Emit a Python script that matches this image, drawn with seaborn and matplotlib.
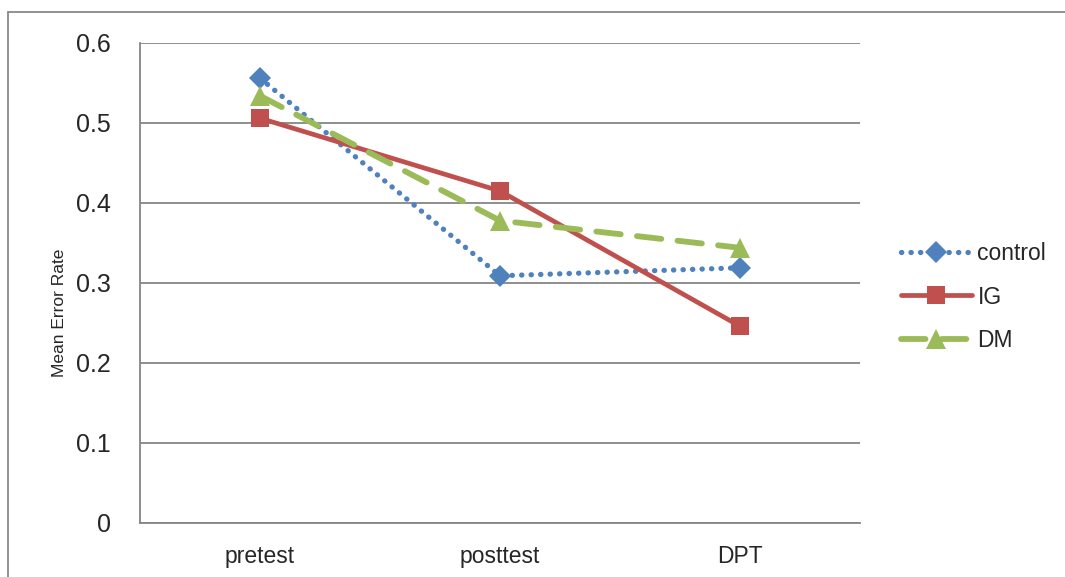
import matplotlib
matplotlib.use("Agg")
import matplotlib.pyplot as plt
from matplotlib.lines import Line2D
import seaborn as sns
import pandas as pd

categories = ["pretest", "posttest", "DPT"]
control = [0.556, 0.309, 0.319]
ig = [0.506, 0.415, 0.246]
dm = [0.534, 0.378, 0.344]
series_names = ["control", "IG", "DM"]
yticks = [0, 0.1, 0.2, 0.3, 0.4, 0.5, 0.6]

sns.set_theme(style="white")
plt.rcParams['font.family'] = ['Liberation Sans', 'DejaVu Sans']

W, H = 1065, 577
fig = plt.figure(figsize=(W / 100, H / 100), dpi=100)
ax = fig.add_axes([140 / W, 1 - 523 / H, 720 / W, 480 / H])

df = pd.DataFrame({
    "phase": categories * 3,
    "value": control + ig + dm,
    "group": [series_names[0]] * 3 + [series_names[1]] * 3 + [series_names[2]] * 3,
})

colors = {"control": "#4F81BD", "IG": "#C0504D", "DM": "#9BBB59"}
styles = {
    "control": dict(marker="D", markersize=11.5, linestyle=(0, (0.05, 1.75)), dash_capstyle="round", linewidth=3.8),
    "IG": dict(marker="s", markersize=13.5, linestyle="-", linewidth=3.4),
    "DM": dict(marker="^", markersize=14, linestyle=(0, (4.2, 2.8)), dash_capstyle="round", linewidth=4.2),
}
for name in series_names:
    sub = df[df["group"] == name]
    sns.lineplot(data=sub, x="phase", y="value", ax=ax, color=colors[name],
                 label=name, sort=False, markeredgewidth=0,
                 **styles[name])

ax.set_xlim(-0.5, 2.5)
ax.set_ylim(0, 0.6)
ax.set_yticks(yticks)
ax.set_yticklabels([f"{t:g}" for t in yticks], fontsize=18)
ax.set_xticks(range(len(categories)))
ax.set_xticklabels(categories, fontsize=16.5)
ax.tick_params(axis="x", length=0, pad=16)
ax.tick_params(axis="y", length=0, pad=21)
ax.set_xlabel("")
ax.set_ylabel("Mean Error Rate", fontsize=12.5)
ax.yaxis.set_label_coords(-0.101, (523 - 313) / 480)
ax.grid(axis="y", color="#868686", linewidth=1.3)
ax.set_axisbelow(True)
for s in ["top", "right"]:
    ax.spines[s].set_visible(False)
for s in ["left", "bottom"]:
    ax.spines[s].set_color("#868686")
    ax.spines[s].set_linewidth(1.3)

leg = ax.legend(loc="center left", bbox_to_anchor=(880 / W, 1 - 297 / H),
                bbox_transform=fig.transFigure, frameon=False, fontsize=16.5,
                handlelength=3.1, numpoints=1, labelspacing=0.9, handletextpad=0.25)

# outer chart border
fig.add_artist(Line2D([8 / W, 8 / W], [0, 1 - 12 / H], color="#898989", linewidth=1.3))
fig.add_artist(Line2D([8 / W, 1], [1 - 12 / H, 1 - 12 / H], color="#898989", linewidth=1.3))

fig.savefig("out.png", dpi=100)
